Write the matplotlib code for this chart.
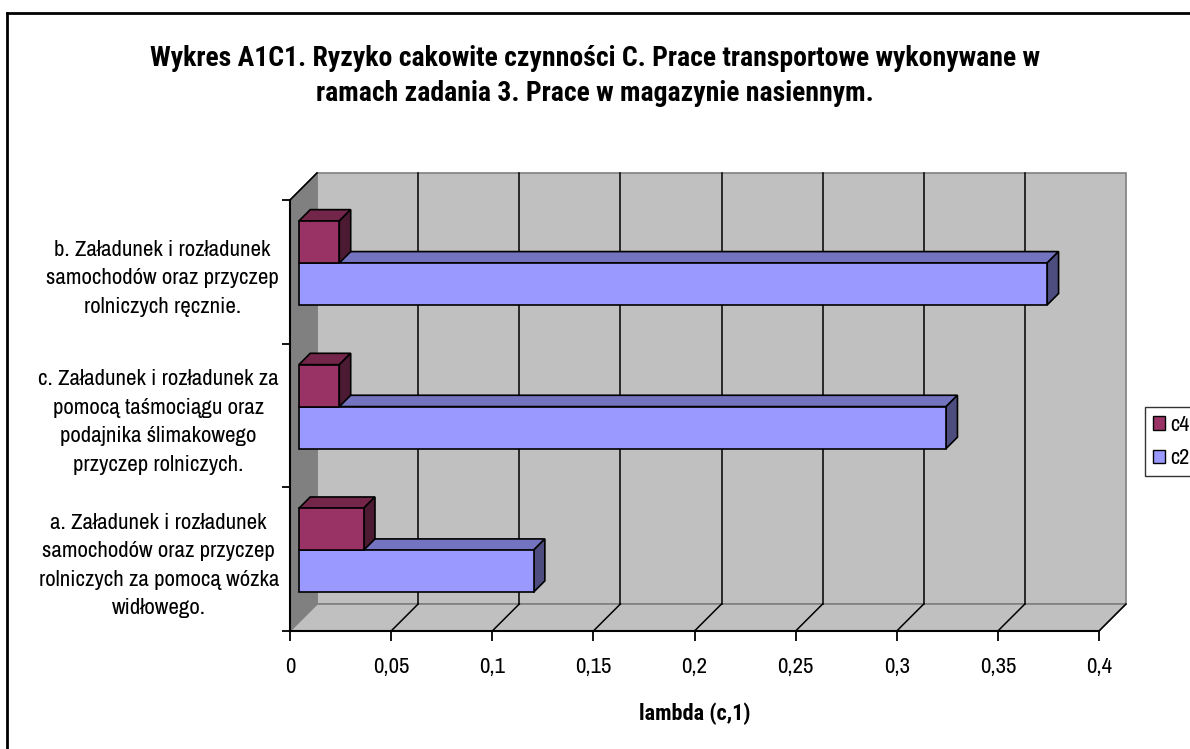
import matplotlib
matplotlib.use('Agg')
import matplotlib.pyplot as plt
from matplotlib.patches import Polygon, Rectangle, Patch
from matplotlib.lines import Line2D

waski = ['Archivo Narrow', 'DejaVu Sans']
waski_b = ['Roboto Condensed', 'Archivo Narrow', 'DejaVu Sans']
plt.rcParams['font.family'] = waski

# dane wykresu
kategorie = ['a. Załadunek i rozładunek\nsamochodów oraz przyczep\nrolniczych za pomocą wózka\nwidłowego.',
             'c. Załadunek i rozładunek za\npomocą taśmociągu oraz\npodajnika ślimakowego\nprzyczep rolniczych.',
             'b. Załadunek i rozładunek\nsamochodów oraz przyczep\nrolniczych ręcznie.']
c2 = [0.116, 0.32, 0.37]
c4 = [0.032, 0.02, 0.02]
serie = ['c4', 'c2']
x_ticks = [0, 0.05, 0.1, 0.15, 0.2, 0.25, 0.3, 0.35, 0.4]
x_labels = ['0', '0,05', '0,1', '0,15', '0,2', '0,25', '0,3', '0,35', '0,4']

# kolory (front, gora, bok)
kol_c2 = ('#9999FF', '#7373BF', '#4D4D80')
kol_c4 = ('#993366', '#732649', '#4D1A33')

fig = plt.figure(figsize=(11.9, 7.49), dpi=100)
ax = fig.add_axes([290 / 1190, (749 - 631) / 749, 809 / 1190, 431 / 749])
ax.set_xlim(0, 0.4)
ax.set_ylim(0, 3)

# glebokosc "3D" w jednostkach danych
DX = 27 / 2022.5
DY = 27 / 143.7

# sciany
ax.add_patch(Rectangle((DX, DY), 0.4, 3, facecolor='#C0C0C0', edgecolor='#808080', lw=1.2, zorder=1, clip_on=False))
ax.add_patch(Polygon([(0, 0), (DX, DY), (DX, 3 + DY), (0, 3)], closed=True,
                     facecolor='#808080', edgecolor='#808080', lw=1, zorder=1, clip_on=False))
ax.add_patch(Polygon([(0, 0), (0.4, 0), (0.4 + DX, DY), (DX, DY)], closed=True,
                     facecolor='#C0C0C0', edgecolor='#808080', lw=1.2, zorder=1, clip_on=False))
ax.plot([0, DX], [3, 3 + DY], color='black', lw=1.2, zorder=2, clip_on=False)

# linie siatki
for t in x_ticks[1:-1]:
    ax.plot([t + DX, t + DX], [DY, 3 + DY], color='black', lw=1.1, zorder=2, clip_on=False)
for t in x_ticks[1:]:
    ax.plot([t, t + DX], [0, DY], color='black', lw=1.1, zorder=2, clip_on=False)


def slupek(v, y0, h, kol):
    d0, d1 = 0.33, 0.75
    x0 = d0 * DX
    x1 = v + d0 * DX
    yb = y0 + d0 * DY
    yt = yb + h
    ex, ey = (d1 - d0) * DX, (d1 - d0) * DY
    ax.add_patch(Polygon([(x0, yt), (x1, yt), (x1 + ex, yt + ey), (x0 + ex, yt + ey)], closed=True,
                         facecolor=kol[1], edgecolor='black', lw=1.2, zorder=3, clip_on=False))
    ax.add_patch(Polygon([(x1, yb), (x1 + ex, yb + ey), (x1 + ex, yt + ey), (x1, yt)], closed=True,
                         facecolor=kol[2], edgecolor='black', lw=1.2, zorder=3, clip_on=False))
    ax.add_patch(Rectangle((x0, yb), v, h, facecolor=kol[0], edgecolor='black', lw=1.2, zorder=3, clip_on=False))


h = 0.292
for i in range(len(kategorie)):
    slupek(c2[i], i + 0.5 - h, h, kol_c2)
    slupek(c4[i], i + 0.5, h, kol_c4)

# osie
for s in ['top', 'right']:
    ax.spines[s].set_visible(False)
ax.spines['bottom'].set_linewidth(1.5)
ax.spines['left'].set_linewidth(1.5)
ax.spines['bottom'].set_zorder(4)
ax.spines['left'].set_zorder(4)
ax.patch.set_visible(False)
ax.set_xticks(x_ticks)
ax.set_xticklabels(x_labels, fontsize=16.5)
ax.set_yticks([0, 1, 2, 3])
ax.set_yticklabels([])
ax.set_yticks([0.5, 1.5, 2.5], minor=True)
ax.set_yticklabels(kategorie, minor=True, fontsize=16.5, multialignment='center', linespacing=1.54)
ax.tick_params(axis='x', direction='out', length=7, width=1.3, pad=12)
ax.tick_params(axis='y', which='major', direction='out', length=6, width=1.3)
ax.tick_params(axis='y', which='minor', length=0, pad=8)
ax.set_xlabel('lambda (c,1)', fontsize=16, fontweight='bold', family=waski_b, labelpad=18)

fig.text(0.5, (749 - 76) / 749, 'Wykres A1C1. Ryzyko cakowite czynności C. Prace transportowe wykonywane w\nramach zadania 3. Prace w magazynie nasiennym.',
         ha='center', va='center', fontsize=20, fontweight='bold', family=waski_b, linespacing=1.4)

# ramka
fig.add_artist(Line2D([7 / 1190, 7 / 1190], [0, (749 - 13) / 749], color='black', lw=2))
fig.add_artist(Line2D([7 / 1190, 1], [(749 - 13) / 749, (749 - 13) / 749], color='black', lw=2))

# legenda
uchwyty = [Patch(facecolor=kol_c4[0], edgecolor='black'), Patch(facecolor=kol_c2[0], edgecolor='black')]
fig.legend(uchwyty, serie, loc='upper left', bbox_to_anchor=(1145 / 1190, (749 - 407) / 749),
           fontsize=16, frameon=True, fancybox=False, edgecolor='black', handlelength=0.55,
           handleheight=0.55, handletextpad=0.25, borderpad=0.35, labelspacing=0.6, borderaxespad=0)

plt.savefig('out.png', dpi=100)
